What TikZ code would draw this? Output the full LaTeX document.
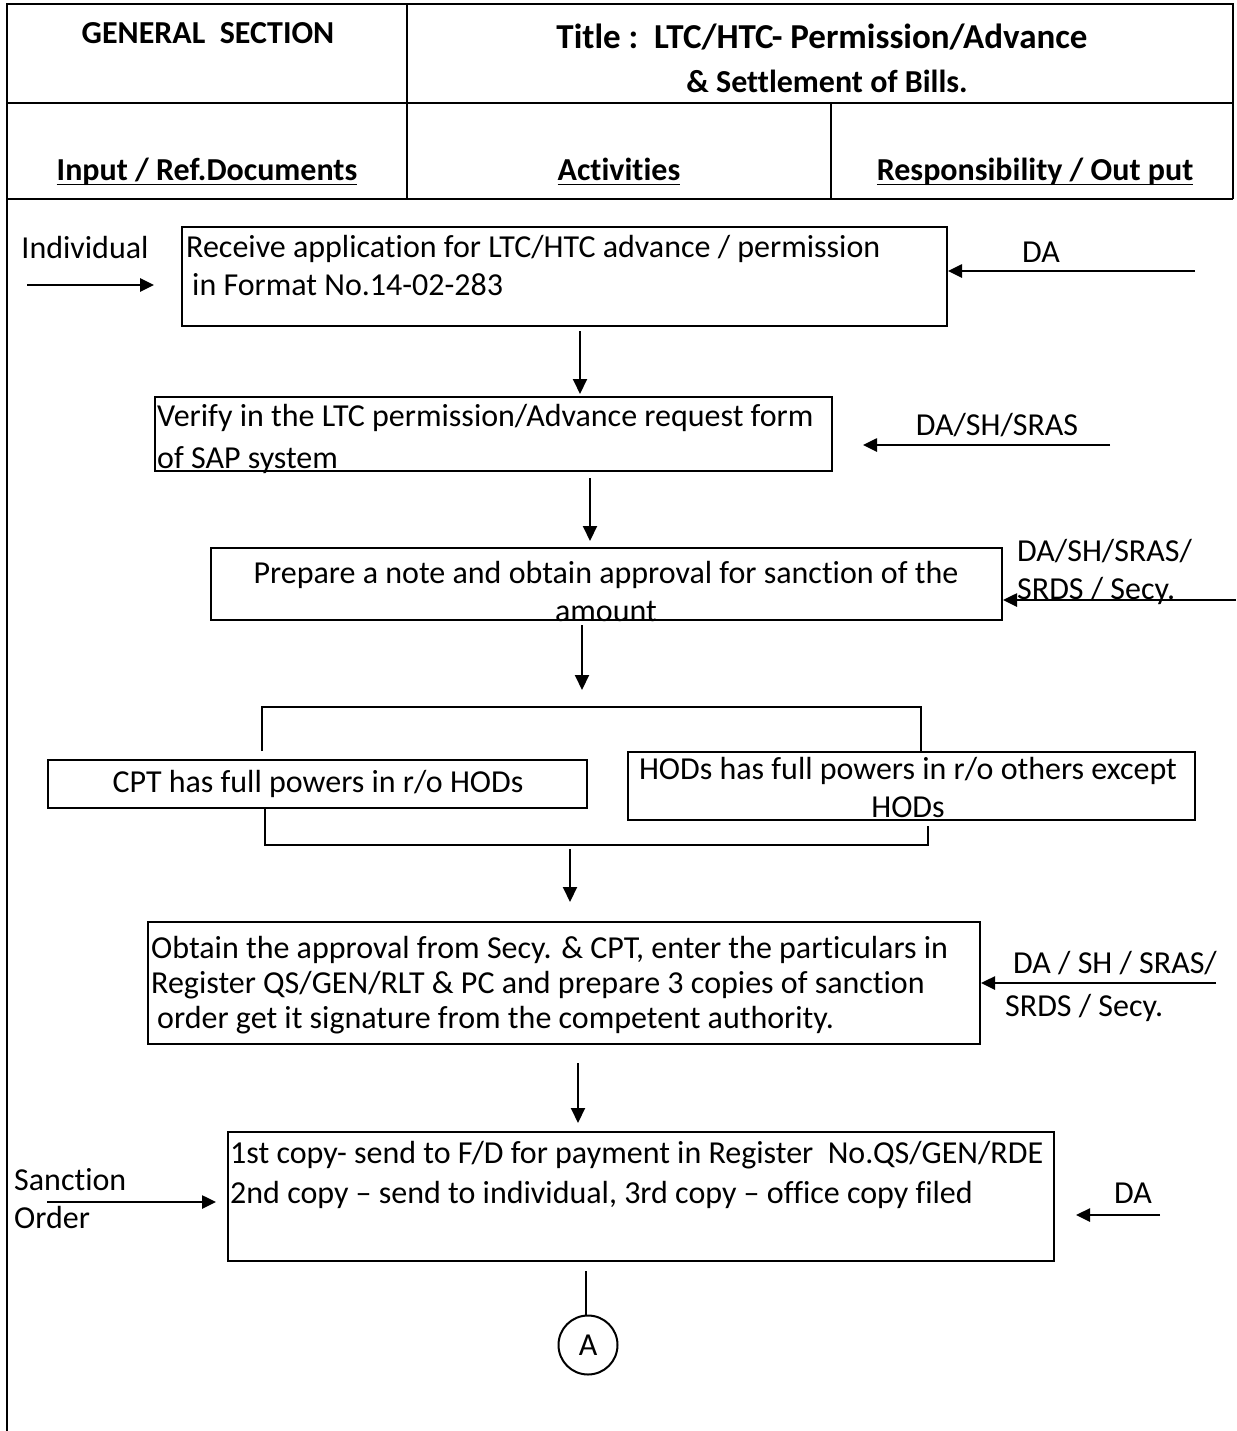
\documentclass[tikz,border=0pt]{standalone}
\usepackage{fontspec}
\setmainfont{Carlito}[Ligatures={TeX,NoCommon}]
\usetikzlibrary{arrows.meta,calc}
% underline with a visible rule weight
\newcommand\hdrul[1]{\setbox0\hbox{#1}\rlap{\rule[-4.5pt]{\wd0}{1.6pt}}\box0}
\begin{document}
\begin{tikzpicture}[x=1pt,y=-1pt,
  every node/.style={inner sep=0pt, font=\fontsize{32}{38}\selectfont},
  frame/.style={line width=2.6pt},
  box/.style={draw, line width=2pt, rectangle},
  lbl/.style={align=left},
  ctr/.style={align=center},
  hdr/.style={font=\fontsize{32}{44}\selectfont\bfseries, align=center},
  sarr/.style={line width=2.6pt, -{Triangle[length=14pt,width=13pt]}},
  varr/.style={line width=2pt, -{Triangle[length=15pt,width=14pt]}},
  plain/.style={line width=2pt},
]
\useasboundingbox (0,0) rectangle (1236,1431);

% ---- header table ----
\draw[frame] (7,1431) -- (7,4) -- (1233,4) -- (1233,199);
\draw[frame] (7,103) -- (1233,103);
\draw[frame] (7,199) -- (1233,199);
\draw[frame] (407,4) -- (407,199);
\draw[frame] (831,103) -- (831,199);

\node[hdr] (gs) at (208,33) {GENERAL\ \ SECTION};
\node[hdr] (ttl) at (822,58) {{\fontsize{35}{44}\selectfont Title :\ \ LTC/HTC- Permission/Advance}\\\hspace*{10pt}\& Settlement of Bills.};
\node[hdr] (c1) at (207,172) {\hdrul{Input / Ref.Documents}};
\node[hdr] (c2) at (619,172) {\hdrul{Activities}};
\node[hdr] (c3) at (1035,172) {\hdrul{Responsibility / Out put}};

% ---- activity boxes ----
\node[box, minimum width=765pt, minimum height=99pt] (b1) at (564.5,276.5) {};
\node[lbl, anchor=west] (t1) at (186,266)
  {Receive application for LTC/HTC advance / permission\\\hspace*{6pt}in Format No.14-02-283};

\node[box, minimum width=677pt, minimum height=74pt] (b2) at (493.5,434) {};
\node[lbl, anchor=west, font=\fontsize{32}{42}\selectfont] (t2) at (157,439)
  {Verify in the LTC permission/Advance request form\\of SAP system};

\node[box, minimum width=791pt, minimum height=72pt] (b3) at (606.5,584) {};
\node[ctr] (t3) at (606,592)
  {Prepare a note and obtain approval for sanction of the\\amount};

\node[box, minimum width=539pt, minimum height=48pt] (cpt) at (317.5,784) {};
\node (tc) at (318,784) {CPT has full powers in r/o HODs};

\node[box, minimum width=567pt, minimum height=68pt] (hod) at (911.5,786) {};
\node[ctr] (th) at (908,787) {HODs has full powers in r/o others except\\HODs};

\node[box, minimum width=832pt, minimum height=122pt] (b4) at (564,983) {};
\node[lbl, anchor=west, font=\fontsize{32}{35}\selectfont] (t4) at (151,985)
  {Obtain the approval from Secy. \& CPT, enter the particulars in\\
   Register QS/GEN/RLT \& PC and prepare 3 copies of sanction\\
   \hspace*{6pt}order get it signature from the competent authority.};

\node[box, minimum width=826pt, minimum height=129pt] (b5) at (641,1196.5) {};
\node[lbl, anchor=west, font=\fontsize{32}{40}\selectfont] (t5) at (230,1175)
  {1st copy- send to F/D for payment in Register\ \ No.QS/GEN/RDE\\
   2nd copy – send to individual, 3rd copy – office copy filed};

\node[draw, circle, line width=2pt, minimum size=59pt] (A) at (588,1345) {A};

% ---- input / responsibility labels ----
\node (in1) at (85,248) {Individual};
\node (r1) at (1041,252) {DA};
\node (r2) at (997,425) {DA/SH/SRAS};
\node[lbl, anchor=west] (r3) at (1017,572) {DA/SH/SRAS/\\SRDS / Secy.};
\node[lbl, anchor=west, font=\fontsize{32}{43}\selectfont] (r4) at (1005,986) {\hspace*{8pt}DA / SH / SRAS/\\SRDS / Secy.};
\node[lbl, anchor=west] (in5) at (14,1199) {Sanction\\Order};
\node (r5) at (1133,1193) {DA};

% ---- side arrows ----
\coordinate (in1s) at (27,285);
\coordinate (r1s) at (1195,271);
\coordinate (r2s) at (1110,445);
\coordinate (r3s) at (1236,600);
\coordinate (r4s) at (1216,983);
\coordinate (in5s) at (47,1202);
\coordinate (r5s) at (1160,1215);
\draw[sarr] (in1s) -- ([xshift=-27pt]b1.west |- in1s);
\draw[sarr] (r1s) -- (b1.east |- r1s);
\draw[sarr] (r2s) -- ([xshift=30pt]b2.east |- r2s);
\draw[sarr] (r3s) -- (b3.east |- r3s);
\draw[sarr] (r4s) -- (b4.east |- r4s);
\draw[sarr] (in5s) -- ([xshift=-11pt]b5.west |- in5s);
\draw[sarr] (r5s) -- ([xshift=21pt]b5.east |- r5s);

% ---- split into the two authorities and merge again ----
\coordinate (spL) at (262,707);
\coordinate (spR) at (921,707);
\coordinate (jnL) at (265,845);
\coordinate (jnR) at (928,845);
\coordinate (jn) at (570,845);
\draw[plain] (spL |- cpt.north) ++(0,-8) -- (spL) -- (spR) -- (spR |- hod.north);
\draw[plain] (jnL |- cpt.south) -- (jnL) -- (jnR) -- ([yshift=-5pt]jnR |- hod.south);

% ---- flow arrows ----
\coordinate (x1) at (580,0);
\coordinate (x2) at (590,0);
\coordinate (x3) at (582,0);
\coordinate (x5) at (578,0);
\coordinate (x6) at (586,0);
\draw[varr] ([yshift=-4pt]b1.south -| x1) -- ([yshift=2pt]b2.north -| x1);
\draw[varr] ([yshift=-6pt]b2.south -| x2) -- ([yshift=6pt]b3.north -| x2);
\draw[varr] ([yshift=-4pt]b3.south -| x3) -- ([yshift=17pt]spL -| x3);
\draw[varr] ([yshift=-4pt]jn) -- ([yshift=19pt]b4.north -| jn);
\draw[varr] ([yshift=-18pt]b4.south -| x5) -- ([yshift=8pt]b5.north -| x5);
\draw[plain] ([yshift=-9pt]b5.south -| x6) -- (A.north -| x6);
\end{tikzpicture}
\end{document}
